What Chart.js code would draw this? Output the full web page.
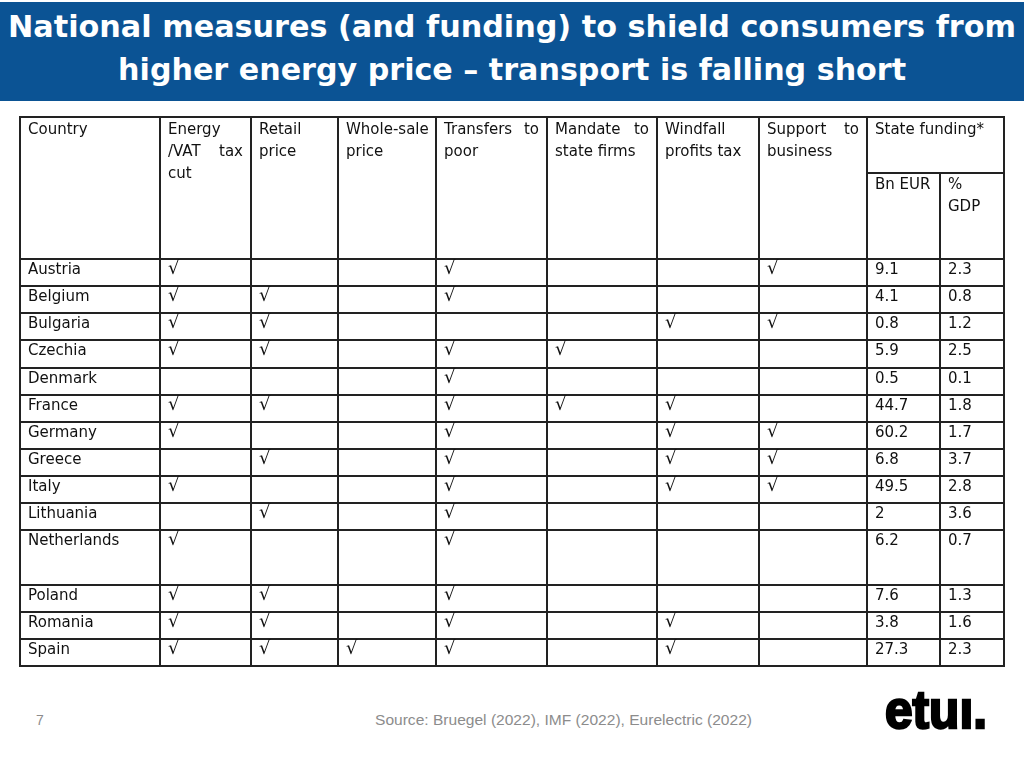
<!DOCTYPE html>
<html>
<head>
<meta charset="utf-8">
<script src="https://cdn.jsdelivr.net/npm/chart.js@4"></script>
<style>
  body{margin:0;width:1024px;height:768px;background:#fff;position:relative;overflow:hidden;font-family:"DejaVu Sans",sans-serif;}
  #band{position:absolute;left:0;top:2px;width:1024px;height:99px;background:#0b5394;}
  .title{position:absolute;left:0;width:1024px;text-align:center;color:#fff;font-weight:bold;font-size:30px;line-height:30px;white-space:nowrap;}
  .title span{display:inline-block;transform-origin:center;}
  #box{position:absolute;left:19px;top:116px;width:986px;height:551px;}
  #pageNo{position:absolute;left:36px;top:712px;font:14px "Liberation Sans",Arial,sans-serif;color:#8c8c8c;}
  #source{position:absolute;left:375px;top:712px;font:14px "Liberation Sans",Arial,sans-serif;color:#8c8c8c;white-space:nowrap;transform-origin:left center;}
  #logo{position:absolute;left:885px;top:682px;font:bold 54px "Liberation Sans Narrow","Liberation Sans",sans-serif;color:#000;white-space:nowrap;line-height:54px;transform-origin:left center;-webkit-text-stroke:2.5px #000;}
</style>
</head>
<body>
<div id="band"></div>
<div class="title" style="top:12px"><span data-w="1008">National measures (and funding) to shield consumers from</span></div>
<div class="title" style="top:55px"><span data-w="788">higher energy price – transport is falling short</span></div>
<div id="box"><canvas id="table"></canvas></div>
<div id="pageNo">7</div>
<div id="source" data-w="377">Source: Bruegel (2022), IMF (2022), Eurelectric (2022)</div>
<div id="logo" data-w="102">etuı.</div>

<script>
// data
const countries=['Austria','Belgium','Bulgaria','Czechia','Denmark','France','Germany','Greece','Italy','Lithuania','Netherlands','Poland','Romania','Spain'];
const energyVatCut=[1,1,1,1,0,1,1,0,1,0,1,1,1,1];
const retailPrice=[0,1,1,1,0,1,0,1,0,1,0,1,1,1];
const wholesalePrice=[0,0,0,0,0,0,0,0,0,0,0,0,0,1];
const transfersToPoor=[1,1,0,1,1,1,1,1,1,1,1,1,1,1];
const mandateStateFirms=[0,0,0,1,0,1,0,0,0,0,0,0,0,0];
const windfallProfitsTax=[0,0,1,0,0,1,1,1,1,0,0,0,1,1];
const supportBusiness=[1,0,1,0,0,0,1,1,1,0,0,0,0,0];
const fundingBnEur=[9.1,4.1,0.8,5.9,0.5,44.7,60.2,6.8,49.5,2,6.2,7.6,3.8,27.3];
const fundingPctGdp=[2.3,0.8,1.2,2.5,0.1,1.8,1.7,3.7,2.8,3.6,0.7,1.3,1.6,2.3];

const countryHeader=['Country'];
const measureHeaders=[['Energy','/VAT tax','cut'],['Retail','price'],['Whole-sale','price'],['Transfers to','poor'],['Mandate to','state firms'],['Windfall','profits tax'],['Support to','business']];
const fundingHeader=['State funding*'];
const fundingSubHeaders=[['Bn EUR'],['%','GDP']];

// layout (table units = px inside the table)
const colEdges=[0,140,231,318,416,527,637,739,847,920,984];
const rowSpans=[1,1,1,1,1,1,1,1,1,1,2,1,1,1];
const headerH=142, subHeaderY=56, tableH=549;
const rowPx=(tableH-headerH)/rowSpans.reduce((a,b)=>a+b,0);
const pad=8, baseOff=15, lineH=22;
const font='15px "DejaVu Sans"';
const checkFont='18px "DejaVu Sans"';

const rowTops=[];
let acc=headerH;
rowSpans.forEach(s=>{rowTops.push(acc);acc+=s*rowPx;});

const measures=[energyVatCut,retailPrice,wholesalePrice,transfersToPoor,mandateStateFirms,windfallProfitsTax,supportBusiness];

function cellDataset(col,values,fmt,f){
  const pts=[];
  values.forEach((v,i)=>{
    const txt=fmt(v);
    if(txt!=='') pts.push({x:colEdges[col]+pad,y:rowTops[i]+baseOff,txt:txt});
  });
  return {data:pts,pointRadius:0,pointHoverRadius:0,showLine:false,cellFont:f||font};
}

const datasets=[cellDataset(0,countries,v=>v)];
measures.forEach((m,k)=>datasets.push(cellDataset(k+1,m,v=>v?'√':'',checkFont)));
datasets.push(cellDataset(8,fundingBnEur,v=>String(v)));
datasets.push(cellDataset(9,fundingPctGdp,v=>String(v)));

function drawLines(ctx,lines,x,y,w){
  lines.forEach((line,i)=>{
    const yy=y+i*lineH;
    const words=line.split(/\s+/);
    if(i<lines.length-1 && words.length>1){
      const tot=words.reduce((s,wd)=>s+ctx.measureText(wd).width,0);
      const gap=(w-tot)/(words.length-1);
      let cx=x;
      words.forEach(wd=>{ctx.fillText(wd,cx,yy);cx+=ctx.measureText(wd).width+gap;});
    }else{
      ctx.fillText(line,x,yy);
    }
  });
}

const tablePlugin={
  id:'tablePlugin',
  afterDatasetsDraw(chart){
    const ctx=chart.ctx, xs=chart.scales.x, ys=chart.scales.y;
    const px=v=>xs.getPixelForValue(v), py=v=>ys.getPixelForValue(v);
    ctx.save();
    // grid
    ctx.strokeStyle='#222';
    ctx.lineWidth=2;
    ctx.beginPath();
    colEdges.forEach((c,i)=>{
      const top=(i===9)?subHeaderY:0;
      ctx.moveTo(Math.round(px(c)),py(top)-1);
      ctx.lineTo(Math.round(px(c)),py(tableH)+1);
    });
    const hLines=[0,headerH].concat(rowTops.slice(1),[tableH]);
    hLines.forEach(r=>{
      ctx.moveTo(px(0)-1,Math.round(py(r)));
      ctx.lineTo(px(984)+1,Math.round(py(r)));
    });
    ctx.moveTo(px(colEdges[8]),Math.round(py(subHeaderY)));
    ctx.lineTo(px(colEdges[10]),Math.round(py(subHeaderY)));
    ctx.stroke();
    // header text
    ctx.fillStyle='#111';
    ctx.font=font;
    ctx.textBaseline='alphabetic';
    const hy=py(16.5);
    const cellW=c=>px(colEdges[c+1])-px(colEdges[c])-2*pad;
    drawLines(ctx,countryHeader,px(colEdges[0]+pad),hy,cellW(0));
    measureHeaders.forEach((h,k)=>drawLines(ctx,h,px(colEdges[k+1]+pad),hy,cellW(k+1)));
    drawLines(ctx,fundingHeader,px(colEdges[8]+pad),hy,cellW(8)+cellW(9));
    fundingSubHeaders.forEach((h,k)=>drawLines(ctx,h,px(colEdges[8+k]+pad),py(subHeaderY+16),cellW(8+k)));
    // body cells from dataset elements
    chart.data.datasets.forEach((ds,i)=>{
      ctx.font=ds.cellFont;
      chart.getDatasetMeta(i).data.forEach((el,j)=>{
        ctx.fillText(ds.data[j].txt,el.x,el.y);
      });
    });
    ctx.restore();
  }
};

new Chart(document.getElementById('table'),{
  type:'scatter',
  data:{datasets:datasets},
  options:{
    responsive:true,
    maintainAspectRatio:false,
    animation:false,
    events:[],
    layout:{padding:1},
    plugins:{legend:{display:false},tooltip:{enabled:false}},
    scales:{
      x:{type:'linear',min:0,max:984,display:false},
      y:{type:'linear',min:0,max:tableH,reverse:true,display:false}
    }
  },
  plugins:[tablePlugin]
});

// fit title/footer widths
document.querySelectorAll('[data-w]').forEach(el=>{
  const w=el.getBoundingClientRect().width;
  const target=+el.dataset.w;
  el.style.transform='scaleX('+(target/w)+')';
});
</script>
</body>
</html>
